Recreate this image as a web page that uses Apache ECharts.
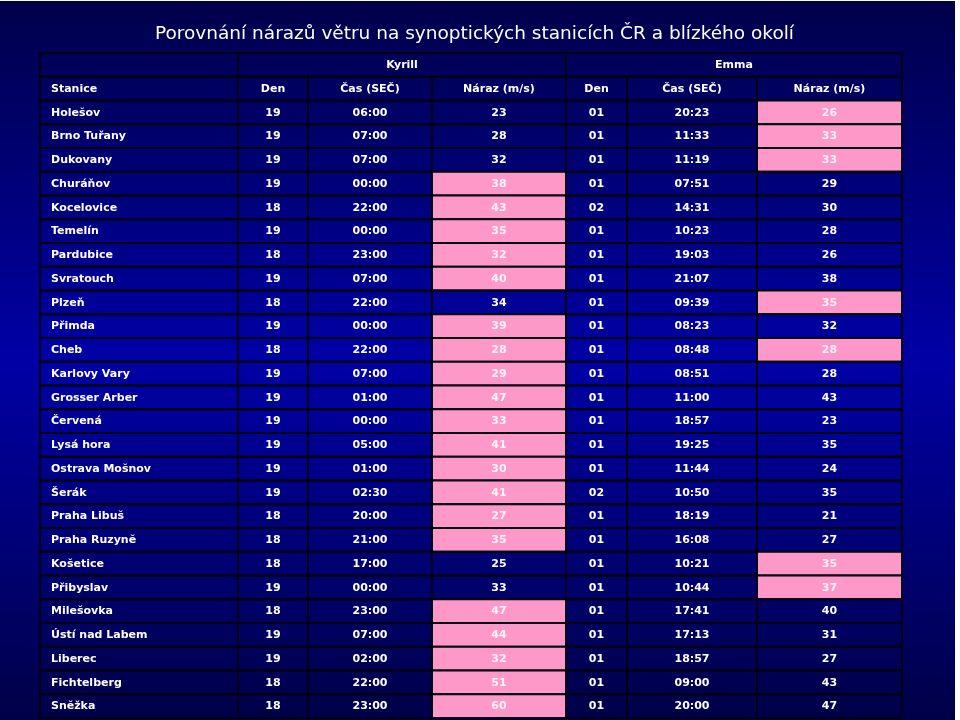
<!DOCTYPE html>
<html>
<head>
<meta charset="utf-8">
<script src="https://cdn.jsdelivr.net/npm/echarts@6/dist/echarts.min.js"></script>
<style>
html,body{margin:0;padding:0;background:#ffffff;}
#chart{position:absolute;left:0;top:1px;width:955px;height:719px;}
</style>
</head>
<body>
<div id="chart"></div>
<script>
// ---- data ----
const title = 'Porovnání nárazů větru na synoptických stanicích ČR a blízkého okolí';
const groupHeaders = ['', 'Kyrill', 'Emma'];
const columnHeaders = ['Stanice', 'Den', 'Čas (SEČ)', 'Náraz (m/s)', 'Den', 'Čas (SEČ)', 'Náraz (m/s)'];
const stations = ['Holešov','Brno Tuřany','Dukovany','Churáňov','Kocelovice','Temelín','Pardubice','Svratouch','Plzeň','Přimda','Cheb','Karlovy Vary','Grosser Arber','Červená','Lysá hora','Ostrava Mošnov','Šerák','Praha Libuš','Praha Ruzyně','Košetice','Přibyslav','Milešovka','Ústí nad Labem','Liberec','Fichtelberg','Sněžka'];
const kyrillDay = ['19','19','19','19','18','19','18','19','18','19','18','19','19','19','19','19','19','18','18','18','19','18','19','19','18','18'];
const kyrillTime = ['06:00','07:00','07:00','00:00','22:00','00:00','23:00','07:00','22:00','00:00','22:00','07:00','01:00','00:00','05:00','01:00','02:30','20:00','21:00','17:00','00:00','23:00','07:00','02:00','22:00','23:00'];
const kyrillGust = [23,28,32,38,43,35,32,40,34,39,28,29,47,33,41,30,41,27,35,25,33,47,44,32,51,60];
const kyrillMark = [0,0,0,1,1,1,1,1,0,1,1,1,1,1,1,1,1,1,1,0,0,1,1,1,1,1];
const emmaDay = ['01','01','01','01','02','01','01','01','01','01','01','01','01','01','01','01','02','01','01','01','01','01','01','01','01','01'];
const emmaTime = ['20:23','11:33','11:19','07:51','14:31','10:23','19:03','21:07','09:39','08:23','08:48','08:51','11:00','18:57','19:25','11:44','10:50','18:19','16:08','10:21','10:44','17:41','17:13','18:57','09:00','20:00'];
const emmaGust = [26,33,33,29,30,28,26,38,35,32,28,28,43,23,35,24,35,21,27,35,37,40,31,27,43,47];
const emmaMark = [1,1,1,0,0,0,0,0,1,0,1,0,0,0,0,0,0,0,0,1,1,0,0,0,0,0];

// ---- layout (not data) ----
const colWidths = [198, 70, 124, 134, 61, 130, 145];
const colEdges = [0];
colWidths.forEach(w => colEdges.push(colEdges[colEdges.length - 1] + w));
const totalW = colEdges[colEdges.length - 1];

// build cells
const rowLabels = ['g', 'h'].concat(stations);
const cells = [];
function addCell(c0, c1, row, text, align, mark) {
  cells.push({ value: [colEdges[c0], colEdges[c1], row], text: String(text), align: align, mark: mark });
}
addCell(0, 1, 0, groupHeaders[0], 'left', 0);
addCell(1, 4, 0, groupHeaders[1], 'center', 0);
addCell(4, 7, 0, groupHeaders[2], 'center', 0);
columnHeaders.forEach((h, i) => addCell(i, i + 1, 1, h, i === 0 ? 'left' : 'center', 0));
stations.forEach((s, r) => {
  const row = r + 2;
  addCell(0, 1, row, s, 'left', 0);
  addCell(1, 2, row, kyrillDay[r], 'center', 0);
  addCell(2, 3, row, kyrillTime[r], 'center', 0);
  addCell(3, 4, row, kyrillGust[r], 'center', kyrillMark[r]);
  addCell(4, 5, row, emmaDay[r], 'center', 0);
  addCell(5, 6, row, emmaTime[r], 'center', 0);
  addCell(6, 7, row, emmaGust[r], 'center', emmaMark[r]);
});

const chart = echarts.init(document.getElementById('chart'), null, { renderer: 'canvas' });
const font = 'bold 11px "DejaVu Sans", Verdana, sans-serif';

chart.setOption({
  animation: false,
  backgroundColor: {
    type: 'linear', x: 0, y: 0, x2: 0, y2: 1,
    colorStops: [
      { offset: 0, color: '#00004a' },
      { offset: 0.5, color: '#0000a6' },
      { offset: 1, color: '#000048' }
    ]
  },
  title: {
    text: title,
    left: 150,
    top: 19,
    textStyle: { color: '#ffffff', fontSize: 18.5, fontWeight: 'normal', fontFamily: '"DejaVu Sans", Verdana, sans-serif' }
  },
  grid: { left: 40, top: 52, width: totalW, bottom: 2 },
  xAxis: { type: 'value', min: 0, max: totalW, show: false },
  yAxis: { type: 'category', data: rowLabels, inverse: true, show: false },
  series: [{
    type: 'custom',
    encode: { x: [0, 1], y: 2 },
    data: cells.map(c => c.value),
    renderItem: function (params, api) {
      const cell = cells[params.dataIndex];
      const row = api.value(2);
      const p0 = api.coord([api.value(0), row]);
      const p1 = api.coord([api.value(1), row]);
      const h = api.size([0, 1])[1];
      const tx = cell.align === 'left' ? p0[0] + 11 : (p0[0] + p1[0]) / 2;
      return {
        type: 'group',
        children: [
          {
            type: 'rect',
            shape: { x: p0[0], y: p0[1] - h / 2, width: p1[0] - p0[0], height: h },
            style: { fill: cell.mark ? '#fe98c9' : 'rgba(0,0,0,0)', stroke: '#000010', lineWidth: 2 }
          },
          {
            type: 'text',
            x: tx,
            y: p0[1] + 0.5,
            style: {
              text: cell.text,
              textAlign: cell.align,
              textVerticalAlign: 'middle',
              fill: cell.mark ? '#fff2f8' : '#ffffff',
              font: font
            }
          }
        ]
      };
    }
  }]
});
</script>
</body>
</html>
